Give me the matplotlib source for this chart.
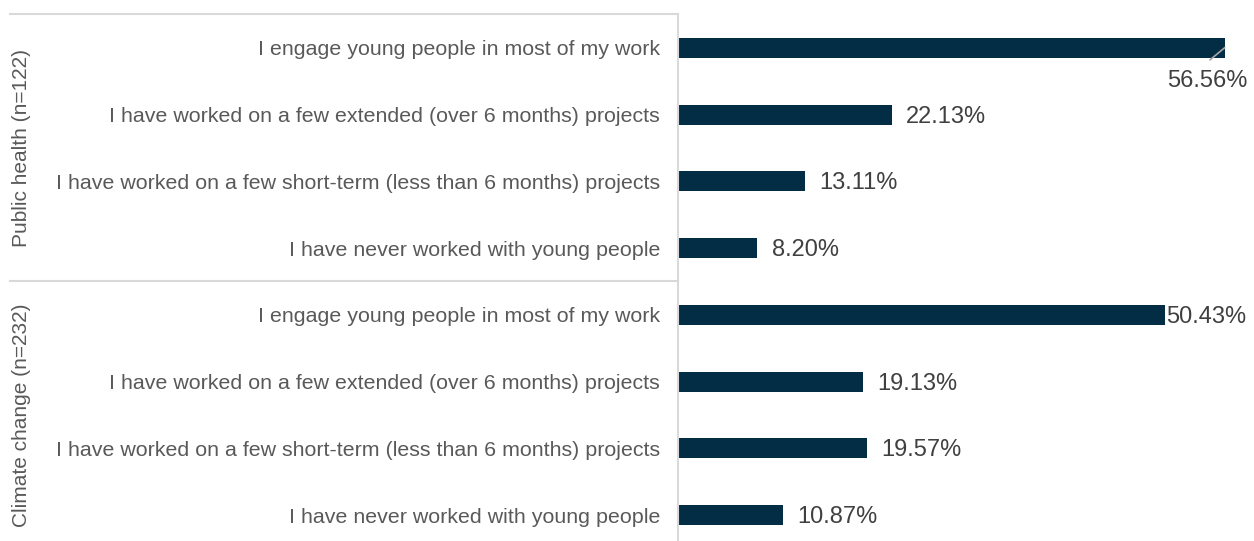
import matplotlib.pyplot as plt
import matplotlib.transforms as mtransforms

plt.rcParams['font.family'] = ['Liberation Sans', 'DejaVu Sans']

groups = ['Public health (n=122)', 'Climate change (n=232)']
answers = [
    'I engage young people in most of my work',
    'I have worked on a few extended (over 6 months) projects',
    'I have worked on a few short-term (less than 6 months) projects',
    'I have never worked with young people',
]
public_health = [56.56, 22.13, 13.11, 8.20]
climate_change = [50.43, 19.13, 19.57, 10.87]

bar_color = '#032D44'
text_color = '#595959'
line_color = '#D9D9D9'

values = public_health + climate_change
labels = answers + answers
ypos = list(range(len(values)))

fig = plt.figure(figsize=(12.54, 5.41), dpi=100)
# axes spans from the value axis line to the right edge
ax = fig.add_axes([678 / 1254, -7.4 / 541, 576 / 1254, 534 / 541])
ax.barh(ypos, values, height=0.3, color=bar_color)
ax.set_xlim(0, 59.6)
ax.set_ylim(len(values) - 0.5, -0.5)

ax.set_yticks(ypos)
ax.set_yticklabels(labels, fontsize=15.4, color=text_color)
ax.tick_params(axis='y', length=0, pad=13)
ax.set_xticks([])
for side in ['top', 'right', 'bottom']:
    ax.spines[side].set_visible(False)
ax.spines['left'].set_color(line_color)
ax.spines['left'].set_linewidth(1.5)

# value labels
for y, v in zip(ypos, values):
    txt = f'{v:.2f}%'
    if v == max(values):
        ax.text(v + 2.4, y + 0.5, txt, ha='right', va='center', fontsize=17, color='#404040')
        ax.plot([v, v - 1.5], [y, y + 0.18], color='#A6A6A6', lw=1.2)
    elif v > 45:
        ax.text(v + 0.05, y + 0.03, txt, ha='left', va='center', fontsize=17, color='#404040')
    else:
        ax.text(v + 1.5, y + 0.03, txt, ha='left', va='center', fontsize=17, color='#404040')

# group lines and labels
trans = mtransforms.blended_transform_factory(fig.transFigure, ax.transData)
x0, x1 = 10 / 1254, 678 / 1254
for yl in [-0.5, 3.5]:
    ax.plot([x0, x1], [yl, yl], color=line_color, lw=1.5, transform=trans, clip_on=False)
for i, g in enumerate(groups):
    ax.text(22 / 1254, i * 4 + 1.5, g, rotation=90, ha='center', va='center',
            fontsize=15, color=text_color, transform=trans)

fig.savefig('out.png', dpi=100)
